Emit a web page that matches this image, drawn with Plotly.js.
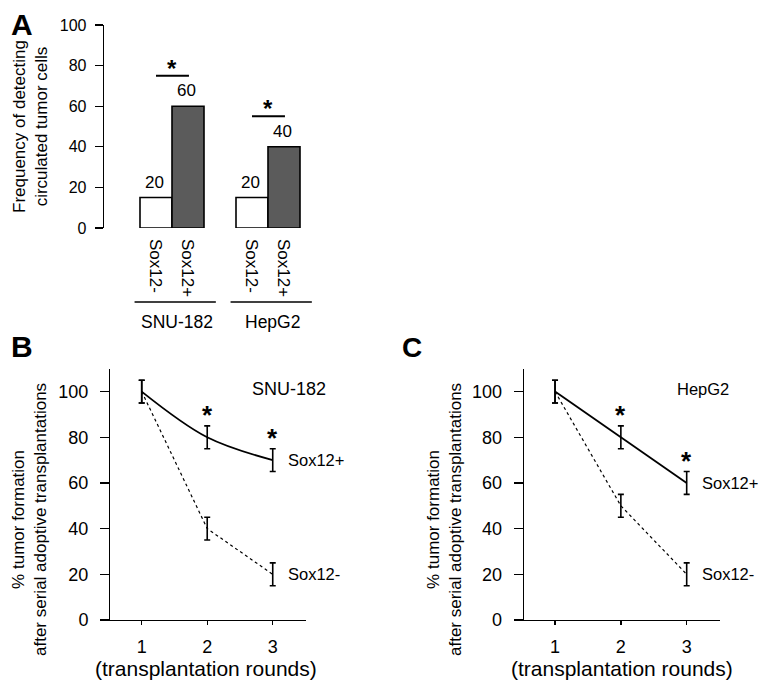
<!DOCTYPE html>
<html><head><meta charset="utf-8">
<script src="https://cdn.plot.ly/plotly-3.0.1.min.js"></script>
<style>html,body{margin:0;padding:0;background:#fff}#chart{width:765px;height:684px}</style>
</head><body><div id="chart"></div>
<script>
// ---- Panel A data ----
const cellLines = ['SNU-182', 'HepG2'];
const conditions = ['Sox12-', 'Sox12+'];
const barHeights = [15, 60, 15, 40];
const barLabels = ['20', '60', '20', '40'];
const barPositions = [1, 2, 4, 5];
const yTicksA = [0, 20, 40, 60, 80, 100];

// ---- Panels B / C data ----
const rounds = [1, 2, 3];
const snuPos = [100, 80, 70];
const snuPosErr = [5, 5, 5];
const snuNeg = [100, 40, 20];
const snuNegErr = [5, 5, 5];
const hepPos = [100, 80, 60];
const hepPosErr = [5, 5, 5];
const hepNeg = [100, 50, 20];
const hepNegErr = [5, 5, 5];
const sigRounds = [2, 3];
const yTicksBC = [0, 20, 40, 60, 80, 100];

const W = 765, H = 684;
const px = p => p / W;
const py = p => 1 - p / H;
const FONT = 'Liberation Sans, Arial, sans-serif';
const BLACK = '#000';

const barColors = barPositions.map((_, i) => i % 2 === 0 ? '#ffffff' : '#5b5b5b');
const barTickText = barPositions.map((_, i) => conditions[i % 2]);

function lineTrace(xa, ya, y, err, dashed, shape) {
  return {
    type: 'scatter', mode: 'lines', x: rounds, y: y, xaxis: xa, yaxis: ya,
    line: {color: BLACK, width: dashed ? 1.2 : 1.8, dash: dashed ? 'dot' : 'solid', shape: shape || 'linear'},
    error_y: {type: 'data', array: err, visible: true, color: BLACK, thickness: 1.6, width: 3},
    showlegend: false, hoverinfo: 'skip'
  };
}

const data = [
  {type: 'bar', x: barPositions, y: barHeights, width: 1, xaxis: 'x', yaxis: 'y',
   marker: {color: barColors, line: {color: BLACK, width: 1.6}}, showlegend: false, hoverinfo: 'skip'},
  lineTrace('x2', 'y2', snuPos, snuPosErr, false, 'spline'),
  lineTrace('x2', 'y2', snuNeg, snuNegErr, true),
  lineTrace('x3', 'y3', hepPos, hepPosErr, false),
  lineTrace('x3', 'y3', hepNeg, hepNegErr, true)
];

const annotations = [];
const shapes = [];
function ann(o) { annotations.push(Object.assign({showarrow: false, xanchor: 'center', yanchor: 'middle', font: {family: FONT, size: 16, color: BLACK}}, o)); }

// panel letters
ann({xref: 'paper', yref: 'paper', x: px(22), y: py(24), text: '<b>A</b>', font: {family: FONT, size: 30, color: BLACK}});
ann({xref: 'paper', yref: 'paper', x: px(22), y: py(346), text: '<b>B</b>', font: {family: FONT, size: 30, color: BLACK}});
ann({xref: 'paper', yref: 'paper', x: px(412), y: py(347), text: '<b>C</b>', font: {family: FONT, size: 28, color: BLACK}});

// Panel A bar value labels
barPositions.forEach((xv, i) => {
  ann({xref: 'x', yref: 'y', x: xv - 0.05, y: barHeights[i], yanchor: 'bottom', yshift: 4, text: barLabels[i], font: {family: FONT, size: 17, color: BLACK}});
});
// Panel A significance lines, group underlines and labels
for (let g = 0; g < cellLines.length; g++) {
  const i0 = 2 * g, i1 = 2 * g + 1;
  const top = barHeights[i1] + 15;
  shapes.push({type: 'line', xref: 'x', yref: 'y', x0: barPositions[i0], x1: barPositions[i1] + 0.03, y0: top, y1: top, line: {color: BLACK, width: 2}});
  ann({xref: 'x', yref: 'y', x: (barPositions[i0] + barPositions[i1]) / 2, y: top, yanchor: 'bottom', yshift: -8, text: '<b>*</b>', font: {family: FONT, size: 24, color: BLACK}});
  const u0 = barPositions[i0] - 0.67, u1 = barPositions[i1] + 0.87;
  shapes.push({type: 'line', xref: 'x', yref: 'paper', x0: u0, x1: u1, y0: py(302), y1: py(302), line: {color: BLACK, width: 1.4}});
  ann({xref: 'x', yref: 'paper', x: (u0 + u1) / 2 + 0.05, y: py(322), text: cellLines[g], font: {family: FONT, size: 17.5, color: BLACK}});
}
// Panel A y title
ann({xref: 'paper', yref: 'paper', x: px(31), y: py(127), textangle: -90,
     text: 'Frequency of detecting<br>circulated tumor cells', font: {family: FONT, size: 17, color: BLACK}});

// Panels B / C annotations
function panelAnn(xa, ya, name, nameSize, pos, posErr, neg, titleX, titleYTextX) {
  sigRounds.forEach(r => {
    const k = rounds.indexOf(r);
    ann({xref: xa, yref: ya, x: r, y: pos[k] + posErr[k], yanchor: 'bottom', yshift: -6, text: '<b>*</b>', font: {family: FONT, size: 26, color: BLACK}});
  });
  const last = rounds.length - 1;
  ann({xref: xa, yref: ya, x: rounds[last] + 0.2, y: pos[last], xanchor: 'left', text: conditions[1], font: {family: FONT, size: 16.5, color: BLACK}});
  ann({xref: xa, yref: ya, x: rounds[last] + 0.2, y: neg[last], xanchor: 'left', text: conditions[0], font: {family: FONT, size: 16.5, color: BLACK}});
  ann({xref: xa, yref: ya, x: 3.25, y: 101, text: name, font: {family: FONT, size: nameSize, color: BLACK}});
  ann({xref: 'paper', yref: 'paper', x: px(titleX), y: py(668), text: '(transplantation rounds)', font: {family: FONT, size: 21, color: BLACK}});
  ann({xref: 'paper', yref: 'paper', x: px(titleYTextX), y: py(520), textangle: -90,
       text: '% tumor formation<br>after serial adoptive transplantations', font: {family: FONT, size: 17, color: BLACK}});
}
panelAnn('x2', 'y2', cellLines[0], 18, snuPos, snuPosErr, snuNeg, 206, 29);
panelAnn('x3', 'y3', cellLines[1], 16.5, hepPos, hepPosErr, hepNeg, 622, 444);

const tickFontA = {family: FONT, size: 16, color: BLACK};
const tickFontBC = {family: FONT, size: 18, color: BLACK};

const layout = {
  width: W, height: H, margin: {l: 0, r: 0, t: 0, b: 0},
  paper_bgcolor: '#fff', plot_bgcolor: 'rgba(0,0,0,0)', showlegend: false,
  font: {family: FONT, color: BLACK},
  xaxis: {domain: [px(104), px(320)], range: [-0.625, 6.125], anchor: 'y',
          tickvals: barPositions, ticktext: barTickText, tickangle: 90, ticks: '',
          showline: false, zeroline: false, showgrid: false, tickfont: {family: FONT, size: 17, color: BLACK}, ticklabelstandoff: 10},
  yaxis: {domain: [py(228), py(25)], range: [0, 100], anchor: 'x',
          tickvals: yTicksA, ticks: 'outside', ticklen: 8, tickwidth: 1.3, tickcolor: BLACK,
          showline: true, linecolor: BLACK, linewidth: 1.3, zeroline: false, showgrid: false, tickfont: tickFontA, ticklabelstandoff: 5},
  xaxis2: {domain: [px(100), px(306)], range: [0.363, 3.508], anchor: 'y2',
           tickvals: rounds, ticks: 'outside', ticklen: 4, tickwidth: 1.3, tickcolor: BLACK,
           showline: true, linecolor: BLACK, linewidth: 1.3, zeroline: false, showgrid: false, tickfont: tickFontBC, ticklabelstandoff: 6},
  yaxis2: {domain: [py(620), py(369)], range: [0, 109.9], anchor: 'free', position: px(109),
           tickvals: yTicksBC, ticks: 'outside', ticklen: 9, tickwidth: 1.3, tickcolor: BLACK,
           showline: true, linecolor: BLACK, linewidth: 1.3, zeroline: false, showgrid: false, tickfont: tickFontBC, ticklabelstandoff: 8},
  xaxis3: {domain: [px(515), px(720)], range: [0.392, 3.506], anchor: 'y3',
           tickvals: rounds, ticks: 'outside', ticklen: 4, tickwidth: 1.3, tickcolor: BLACK,
           showline: true, linecolor: BLACK, linewidth: 1.3, zeroline: false, showgrid: false, tickfont: tickFontBC, ticklabelstandoff: 6},
  yaxis3: {domain: [py(620), py(369)], range: [0, 109.9], anchor: 'free', position: px(522.7),
           tickvals: yTicksBC, ticks: 'outside', ticklen: 9, tickwidth: 1.3, tickcolor: BLACK,
           showline: true, linecolor: BLACK, linewidth: 1.3, zeroline: false, showgrid: false, tickfont: tickFontBC, ticklabelstandoff: 8},
  annotations: annotations,
  shapes: shapes
};

Plotly.newPlot('chart', data, layout, {staticPlot: true, displayModeBar: false});
</script>
</body></html>
